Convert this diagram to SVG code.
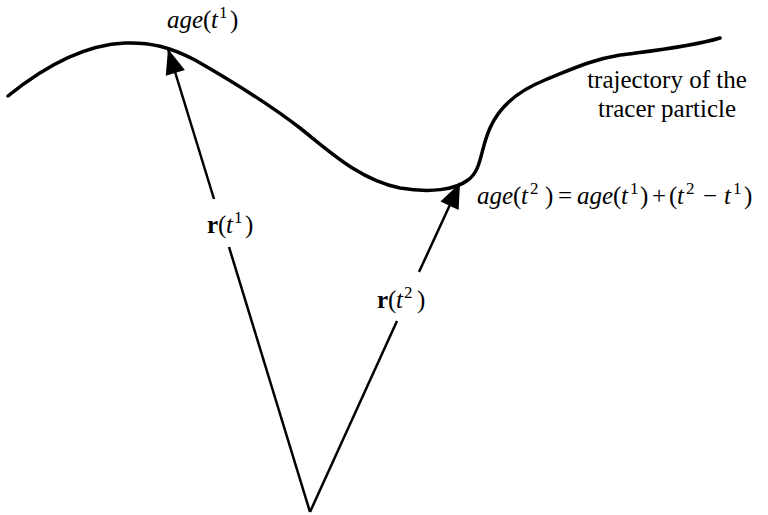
<svg xmlns="http://www.w3.org/2000/svg" width="768" height="515" viewBox="0 0 768 515">
<style>
text{font-family:"Liberation Serif","DejaVu Serif",serif;fill:#000;font-size:25px}
.i{font-style:italic}
.s{font-size:17px}
.vec{stroke:#000;stroke-width:2.5;fill:none}
.traj{stroke:#000;stroke-width:3.5;fill:none;stroke-linecap:round}
</style>
<defs>
<marker id="ah" markerUnits="userSpaceOnUse" markerWidth="30" markerHeight="24" viewBox="-26 -12 28 24" refX="0" refY="0" orient="auto">
<path d="M0,0 L-25,-10 L-25,10 Z" fill="#000"/>
</marker>
</defs>
<rect width="768" height="515" fill="#fff"/>
<g id="trajectory">
<path class="traj" d="M8,96 C40,70 80,45 125,43 C150,42 170,47 195,60 C230,80 270,105 300,128 C330,152 360,180 400,188 C430,193 455,190 468,180 C482,170 480,150 490,128 C500,105 520,90 545,80 C570,70 590,60 620,55 C650,51 690,47 720,38"/>
</g>
<g id="connectors">
<line class="vec" x1="310" y1="512" x2="229" y2="247"/>
<line class="vec" x1="214" y1="199" x2="168" y2="49" marker-end="url(#ah)"/>
<line class="vec" x1="310" y1="512" x2="397" y2="321"/>
<line class="vec" x1="419" y1="272" x2="460" y2="183" marker-end="url(#ah)"/>
</g>
<g id="label-age1">
<text font-family="Liberation Serif, serif"><tspan class="i" x="167" y="28">age</tspan><tspan x="203" y="28">(</tspan><tspan class="i" x="211" y="28">t</tspan><tspan class="s" x="219" y="18">1</tspan><tspan x="230" y="28">)</tspan></text>
</g>
<g id="label-age2">
<text font-family="Liberation Serif, serif"><tspan class="i" x="477" y="204">age</tspan><tspan x="513" y="204">(</tspan><tspan class="i" x="521" y="204">t</tspan><tspan class="s" x="530" y="194">2</tspan><tspan x="545" y="204">)</tspan><tspan x="558" y="204">=</tspan><tspan class="i" x="577" y="204">age</tspan><tspan x="613" y="204">(</tspan><tspan class="i" x="621" y="204">t</tspan><tspan class="s" x="630" y="194">1</tspan><tspan x="640" y="204">)</tspan><tspan x="652" y="204">+</tspan><tspan x="669" y="204">(</tspan><tspan class="i" x="677" y="204">t</tspan><tspan class="s" x="686" y="194">2</tspan><tspan x="703" y="204">−</tspan><tspan class="i" x="724" y="204">t</tspan><tspan class="s" x="733" y="194">1</tspan><tspan x="744" y="204">)</tspan></text>
</g>
<g id="label-trajectory">
<text font-family="Liberation Serif, serif" x="667" y="88" text-anchor="middle">trajectory of the</text>
<text font-family="Liberation Serif, serif" x="667" y="117" text-anchor="middle">tracer particle</text>
</g>
<g id="label-r1">
<text font-family="Liberation Serif, serif"><tspan font-weight="bold" x="207" y="233">r</tspan><tspan x="218" y="233">(</tspan><tspan class="i" x="226" y="233">t</tspan><tspan class="s" x="234" y="223">1</tspan><tspan x="245" y="233">)</tspan></text>
</g>
<g id="label-r2">
<text font-family="Liberation Serif, serif"><tspan font-weight="bold" x="377" y="308">r</tspan><tspan x="388" y="308">(</tspan><tspan class="i" x="396" y="308">t</tspan><tspan class="s" x="404" y="298">2</tspan><tspan x="417" y="308">)</tspan></text>
</g>
</svg>
